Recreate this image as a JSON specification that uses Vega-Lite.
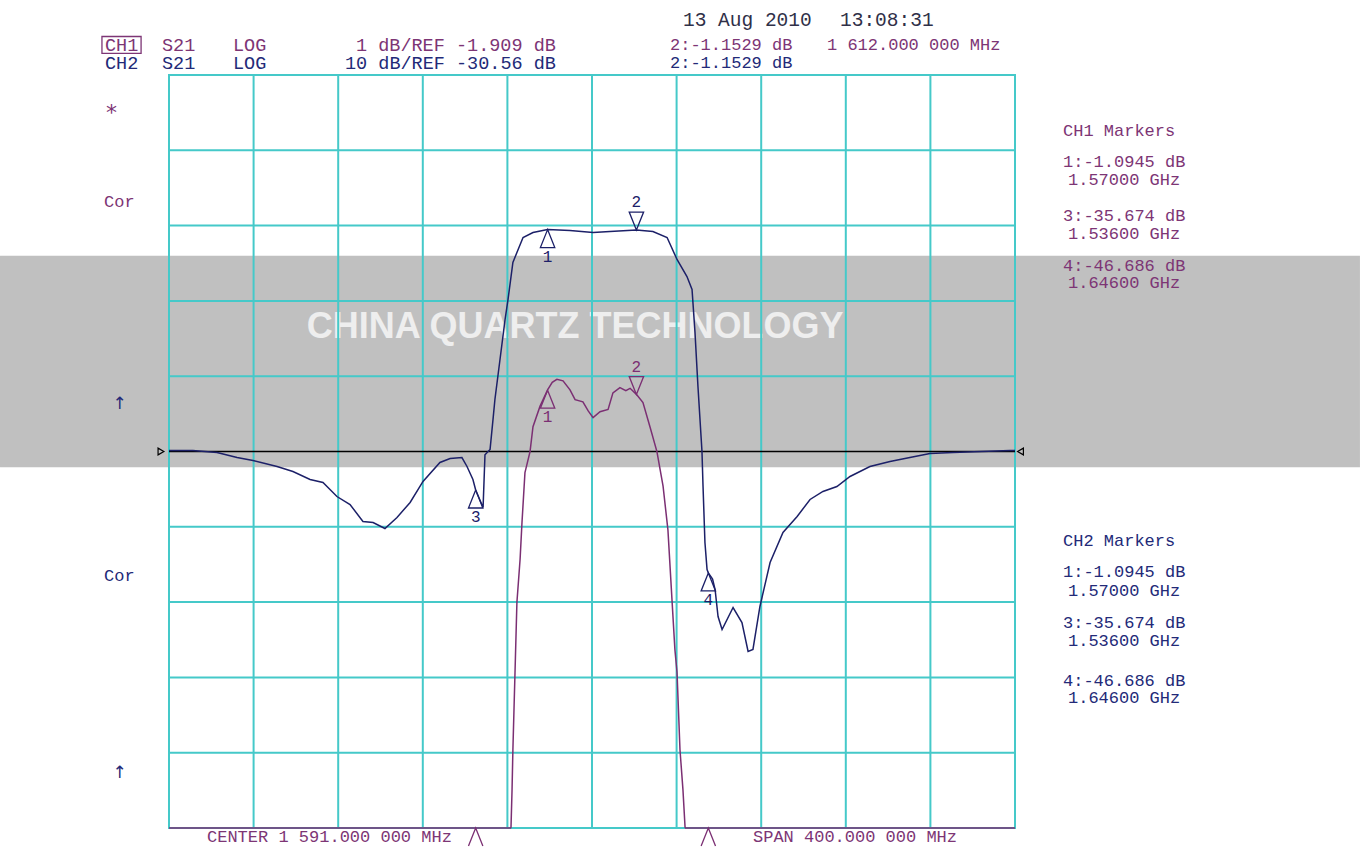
{
  "$schema": "https://vega.github.io/schema/vega-lite/v6.json",
  "width": 846,
  "height": 753,
  "autosize": {"type": "none"},
  "padding": {"left": 169, "top": 75, "right": 345, "bottom": 20},
  "background": "white",
  "config": {
    "view": {"stroke": "#45c9c9", "strokeWidth": 2},
    "text": {"font": "Liberation Mono", "fontSize": 17, "baseline": "middle", "align": "left"}
  },
  "datasets": {
    "one": [{}],
    "gx": [{"f": 1391}, {"f": 1431}, {"f": 1471}, {"f": 1511}, {"f": 1551}, {"f": 1591}, {"f": 1631}, {"f": 1671}, {"f": 1711}, {"f": 1751}, {"f": 1791}],
    "gy": [{"div": -4}, {"div": -3}, {"div": -2}, {"div": -1}, {"div": 1}, {"div": 2}, {"div": 3}, {"div": 4}, {"div": 5}],
    "ch1": [
      {"f": 1391, "db": -8}, {"f": 1552.5, "db": -8}, {"f": 1552.7, "db": -6.9}, {"f": 1553.2, "db": -6.4},
      {"f": 1553.6, "db": -5.87}, {"f": 1554.6, "db": -4.84}, {"f": 1555.5, "db": -3.91}, {"f": 1557, "db": -3.34},
      {"f": 1557.9, "db": -2.85}, {"f": 1559.3, "db": -2.19}, {"f": 1561.7, "db": -1.91}, {"f": 1563.1, "db": -1.58},
      {"f": 1566.4, "db": -1.31}, {"f": 1570, "db": -1.09}, {"f": 1572.2, "db": -0.99}, {"f": 1574.4, "db": -0.95},
      {"f": 1577.3, "db": -0.97}, {"f": 1580.6, "db": -1.09}, {"f": 1583, "db": -1.22}, {"f": 1586.7, "db": -1.25},
      {"f": 1589.2, "db": -1.37}, {"f": 1591.5, "db": -1.46}, {"f": 1594.8, "db": -1.38}, {"f": 1598.6, "db": -1.35},
      {"f": 1600.9, "db": -1.13}, {"f": 1604.2, "db": -1.06}, {"f": 1607, "db": -1.1}, {"f": 1609, "db": -1.07},
      {"f": 1612, "db": -1.15}, {"f": 1615.1, "db": -1.26}, {"f": 1618.4, "db": -1.58}, {"f": 1621.7, "db": -1.91},
      {"f": 1624.6, "db": -2.37}, {"f": 1626.9, "db": -2.95}, {"f": 1628.8, "db": -3.87}, {"f": 1630.2, "db": -4.54},
      {"f": 1631.2, "db": -4.84}, {"f": 1632.6, "db": -5.87}, {"f": 1634, "db": -6.4}, {"f": 1635, "db": -6.9},
      {"f": 1635.2, "db": -8}, {"f": 1791, "db": -8}
    ],
    "ch2": [
      {"f": 1391, "db": -30.43}, {"f": 1402.3, "db": -30.43}, {"f": 1413.7, "db": -30.69}, {"f": 1423.2, "db": -31.36},
      {"f": 1430.7, "db": -31.76}, {"f": 1442.1, "db": -32.55}, {"f": 1449.6, "db": -33.22}, {"f": 1457.7, "db": -34.28},
      {"f": 1463.8, "db": -34.68}, {"f": 1470.4, "db": -36.54}, {"f": 1476.6, "db": -37.6}, {"f": 1482.7, "db": -39.86},
      {"f": 1487.5, "db": -39.99}, {"f": 1493.1, "db": -40.79}, {"f": 1498.8, "db": -39.32}, {"f": 1505, "db": -37.33},
      {"f": 1511.1, "db": -34.54}, {"f": 1519.1, "db": -32.02}, {"f": 1523.9, "db": -31.49}, {"f": 1529.5, "db": -31.36},
      {"f": 1531.9, "db": -32.55}, {"f": 1534.7, "db": -34.28}, {"f": 1536, "db": -35.67}, {"f": 1539.5, "db": -38.0},
      {"f": 1540.4, "db": -31.0}, {"f": 1542.8, "db": -30.3}, {"f": 1544.2, "db": -26.3}, {"f": 1545.1, "db": -23.65},
      {"f": 1547.5, "db": -18.34}, {"f": 1549.9, "db": -13.03}, {"f": 1551.3, "db": -10.37}, {"f": 1553.6, "db": -5.46},
      {"f": 1555.5, "db": -4.13}, {"f": 1558.4, "db": -2.14}, {"f": 1563.1, "db": -1.48}, {"f": 1570, "db": -1.09},
      {"f": 1580.6, "db": -1.21}, {"f": 1591.5, "db": -1.48}, {"f": 1599.5, "db": -1.34}, {"f": 1612, "db": -1.15},
      {"f": 1619.8, "db": -1.34}, {"f": 1626.5, "db": -2.14}, {"f": 1631.2, "db": -5.06}, {"f": 1635.9, "db": -7.32},
      {"f": 1638.3, "db": -9.05}, {"f": 1639.7, "db": -14.76}, {"f": 1641.1, "db": -21.93}, {"f": 1643.0, "db": -30.56},
      {"f": 1643.5, "db": -35.21}, {"f": 1644.4, "db": -42.64}, {"f": 1645.4, "db": -46.23}, {"f": 1646, "db": -46.69},
      {"f": 1648.0, "db": -47.5}, {"f": 1649.2, "db": -48.89}, {"f": 1650.6, "db": -52.47}, {"f": 1652.5, "db": -54.2},
      {"f": 1657.7, "db": -51.28}, {"f": 1661.9, "db": -53.27}, {"f": 1664.8, "db": -57.12}, {"f": 1667.1, "db": -56.85},
      {"f": 1670.4, "db": -51.14}, {"f": 1675.2, "db": -45.3}, {"f": 1681.3, "db": -41.32}, {"f": 1688, "db": -39.19},
      {"f": 1694.1, "db": -36.93}, {"f": 1700.2, "db": -35.87}, {"f": 1706.8, "db": -35.21}, {"f": 1713, "db": -33.88},
      {"f": 1722.4, "db": -32.55}, {"f": 1731.9, "db": -31.89}, {"f": 1741.3, "db": -31.36}, {"f": 1750.8, "db": -30.83},
      {"f": 1761.7, "db": -30.69}, {"f": 1788.6, "db": -30.43}, {"f": 1791, "db": -30.43}
    ],
    "m1": [
      {"f": 1570, "db": -1.0945, "n": "1", "dir": "up"},
      {"f": 1612, "db": -1.1529, "n": "2", "dir": "down"},
      {"f": 1536, "db": -35.674, "n": "3", "dir": "off"},
      {"f": 1646, "db": -46.686, "n": "4", "dir": "off"}
    ],
    "m2": [
      {"f": 1570, "db": -1.0945, "n": "1", "dir": "up"},
      {"f": 1612, "db": -1.1529, "n": "2", "dir": "down"},
      {"f": 1536, "db": -35.674, "n": "3", "dir": "up"},
      {"f": 1646, "db": -46.686, "n": "4", "dir": "up"}
    ],
    "labels": [
      {"f": 1360.74, "div": 5.405, "t": "CH1", "c": "CH1", "s": 18.5},
      {"f": 1387.69, "div": 5.405, "t": "S21", "c": "CH1", "s": 18.5},
      {"f": 1421.26, "div": 5.405, "t": "LOG", "c": "CH1", "s": 18.5},
      {"f": 1479.42, "div": 5.405, "t": "1 dB/REF -1.909 dB", "c": "CH1", "s": 18.5},
      {"f": 1360.74, "div": 5.159, "t": "CH2", "c": "CH2", "s": 18.5},
      {"f": 1387.69, "div": 5.159, "t": "S21", "c": "CH2", "s": 18.5},
      {"f": 1421.26, "div": 5.159, "t": "LOG", "c": "CH2", "s": 18.5},
      {"f": 1474.21, "div": 5.159, "t": "10 dB/REF -30.56 dB", "c": "CH2", "s": 18.5},
      {"f": 1627.88, "div": 5.405, "t": "2:-1.1529 dB", "c": "CH1", "s": 17},
      {"f": 1702.11, "div": 5.405, "t": "1 612.000 000 MHz", "c": "CH1", "s": 17},
      {"f": 1627.88, "div": 5.159, "t": "2:-1.1529 dB", "c": "CH2", "s": 17},
      {"f": 1634.02, "div": 5.737, "t": "13 Aug 2010", "c": "date", "s": 19.5},
      {"f": 1708.26, "div": 5.737, "t": "13:08:31", "c": "date", "s": 19.5},
      {"f": 1360.27, "div": 3.32, "t": "Cor", "c": "CH1", "s": 17},
      {"f": 1360.27, "div": -1.647, "t": "Cor", "c": "CH2", "s": 17},
      {"f": 1813.7, "div": 4.25, "t": "CH1 Markers", "c": "CH1", "s": 17},
      {"f": 1813.7, "div": 3.838, "t": "1:-1.0945 dB", "c": "CH1", "s": 17},
      {"f": 1816.06, "div": 3.612, "t": "1.57000 GHz", "c": "CH1", "s": 17},
      {"f": 1813.7, "div": 3.121, "t": "3:-35.674 dB", "c": "CH1", "s": 17},
      {"f": 1816.06, "div": 2.882, "t": "1.53600 GHz", "c": "CH1", "s": 17},
      {"f": 1813.7, "div": 2.47, "t": "4:-46.686 dB", "c": "CH1", "s": 17},
      {"f": 1816.06, "div": 2.244, "t": "1.64600 GHz", "c": "CH1", "s": 17},
      {"f": 1813.7, "div": -1.182, "t": "CH2 Markers", "c": "CH2", "s": 17},
      {"f": 1813.7, "div": -1.594, "t": "1:-1.0945 dB", "c": "CH2", "s": 17},
      {"f": 1816.06, "div": -1.846, "t": "1.57000 GHz", "c": "CH2", "s": 17},
      {"f": 1813.7, "div": -2.271, "t": "3:-35.674 dB", "c": "CH2", "s": 17},
      {"f": 1816.06, "div": -2.523, "t": "1.53600 GHz", "c": "CH2", "s": 17},
      {"f": 1813.7, "div": -3.054, "t": "4:-46.686 dB", "c": "CH2", "s": 17},
      {"f": 1816.06, "div": -3.28, "t": "1.64600 GHz", "c": "CH2", "s": 17},
      {"f": 1408.97, "div": -5.126, "t": "CENTER 1 591.000 000 MHz", "c": "CH1", "s": 17},
      {"f": 1667.12, "div": -5.126, "t": "SPAN  400.000 000 MHz", "c": "CH1", "s": 17}
    ],
    "symbols": [
      {"f": 1361.2, "div": 4.49, "t": "*", "c": "CH1", "s": 22, "w": "bold"},
      {"f": 1364.3, "div": 0.637, "t": "↑", "c": "CH2", "s": 17, "w": "normal"},
      {"f": 1364.3, "div": -4.263, "t": "↑", "c": "CH2", "s": 17, "w": "normal"}
    ]
  },
  "layer": [
    {
      "layer": [
        {
          "data": {"name": "one"},
          "mark": {"type": "rect", "color": "#c0c0c0"},
          "encoding": {
            "x": {"datum": 1311.1, "type": "quantitative", "scale": {"domain": [1391, 1791], "nice": false, "zero": false}, "axis": null},
            "x2": {"datum": 1954.1},
            "y": {"datum": 2.6, "type": "quantitative", "scale": {"domain": [-5, 5], "nice": false, "zero": false}, "axis": null},
            "y2": {"datum": -0.21}
          }
        },
        {
          "data": {"name": "one"},
          "mark": {"type": "text", "text": "CHINA QUARTZ TECHNOLOGY", "font": "Liberation Sans", "fontWeight": "bold", "fontSize": 36, "color": "#eeeeee", "align": "center"},
          "encoding": {
            "x": {"datum": 1583, "type": "quantitative", "axis": null},
            "y": {"datum": 1.66, "type": "quantitative", "axis": null}
          }
        },
        {
          "data": {"name": "gx"},
          "mark": {"type": "rule", "color": "#45c9c9", "strokeWidth": 2},
          "encoding": {"x": {"field": "f", "type": "quantitative", "axis": null}}
        },
        {
          "data": {"name": "gy"},
          "mark": {"type": "rule", "color": "#45c9c9", "strokeWidth": 2},
          "encoding": {"y": {"field": "div", "type": "quantitative", "axis": null}}
        },
        {
          "data": {"name": "one"},
          "mark": {"type": "rule", "color": "black", "strokeWidth": 1.5},
          "encoding": {"y": {"datum": 0, "type": "quantitative", "axis": null}}
        },
        {
          "data": {"name": "one"},
          "mark": {"type": "point", "shape": "triangle-right", "filled": false, "stroke": "black", "strokeWidth": 1.2, "size": 45, "opacity": 1},
          "encoding": {"x": {"datum": 1387.2, "type": "quantitative", "axis": null}, "y": {"datum": 0, "type": "quantitative", "axis": null}}
        },
        {
          "data": {"name": "one"},
          "mark": {"type": "point", "shape": "triangle-left", "filled": false, "stroke": "black", "strokeWidth": 1.2, "size": 45, "opacity": 1},
          "encoding": {"x": {"datum": 1793.6, "type": "quantitative", "axis": null}, "y": {"datum": 0, "type": "quantitative", "axis": null}}
        },
        {
          "data": {"name": "one"},
          "mark": {"type": "rect", "fillOpacity": 0, "stroke": "#7d3575", "strokeWidth": 1.3},
          "encoding": {
            "x": {"datum": 1359.3, "type": "quantitative", "axis": null},
            "x2": {"datum": 1377.8},
            "y": {"datum": 5.511, "type": "quantitative", "axis": null},
            "y2": {"datum": 5.286}
          }
        },
        {
          "data": {"name": "labels"},
          "mark": {"type": "text"},
          "encoding": {
            "x": {"field": "f", "type": "quantitative", "axis": null},
            "y": {"field": "div", "type": "quantitative", "axis": null},
            "text": {"field": "t", "type": "nominal"},
            "size": {"field": "s", "type": "quantitative", "scale": null},
            "color": {"field": "c", "type": "nominal", "scale": {"domain": ["CH1", "CH2", "date"], "range": ["#7d3575", "#232a78", "#303048"]}, "legend": null}
          }
        },
        {
          "data": {"name": "symbols"},
          "mark": {"type": "text", "font": "DejaVu Sans"},
          "encoding": {
            "x": {"field": "f", "type": "quantitative", "axis": null},
            "y": {"field": "div", "type": "quantitative", "axis": null},
            "text": {"field": "t", "type": "nominal"},
            "size": {"field": "s", "type": "quantitative", "scale": null},
            "fontWeight": {"field": "w", "type": "nominal", "scale": null, "legend": null},
            "color": {"field": "c", "type": "nominal", "legend": null}
          }
        }
      ]
    },
    {
      "layer": [
        {
          "data": {"name": "ch1"},
          "mark": {"type": "line", "color": "#7b2f73", "strokeWidth": 1.5},
          "encoding": {
            "x": {"field": "f", "type": "quantitative", "scale": {"domain": [1391, 1791], "nice": false, "zero": false}, "axis": null},
            "y": {"field": "db", "type": "quantitative", "scale": {"domain": [-6.909, 3.091], "nice": false, "zero": false, "clamp": true}, "axis": null}
          }
        },
        {
          "data": {"name": "m1"},
          "mark": {"type": "point", "filled": false, "strokeWidth": 1.3, "opacity": 1, "size": 1296},
          "encoding": {
            "x": {"field": "f", "type": "quantitative", "axis": null},
            "y": {"field": "db", "type": "quantitative", "axis": null},
            "shape": {"field": "dir", "type": "nominal", "scale": {"domain": ["up", "down", "off"], "range": ["M0,0L-0.4,1L0.4,1Z", "M0,0L-0.4,-1L0.4,-1Z", "M-0.4,1L0,0L0.4,1"]}, "legend": null},
            "color": {"value": "#7b2f73"}
          }
        },
        {
          "data": {"name": "m1"},
          "transform": [{"filter": "datum.dir == 'up'"}],
          "mark": {"type": "text", "dy": 27, "fontSize": 16, "align": "center"},
          "encoding": {
            "x": {"field": "f", "type": "quantitative", "axis": null},
            "y": {"field": "db", "type": "quantitative", "axis": null},
            "text": {"field": "n", "type": "nominal"},
            "color": {"value": "#7b2f73"}
          }
        },
        {
          "data": {"name": "m1"},
          "transform": [{"filter": "datum.dir == 'down'"}],
          "mark": {"type": "text", "dy": -28, "fontSize": 16, "align": "center"},
          "encoding": {
            "x": {"field": "f", "type": "quantitative", "axis": null},
            "y": {"field": "db", "type": "quantitative", "axis": null},
            "text": {"field": "n", "type": "nominal"},
            "color": {"value": "#7b2f73"}
          }
        }
      ]
    },
    {
      "layer": [
        {
          "data": {"name": "ch2"},
          "mark": {"type": "line", "color": "#1c2068", "strokeWidth": 1.5},
          "encoding": {
            "x": {"field": "f", "type": "quantitative", "scale": {"domain": [1391, 1791], "nice": false, "zero": false}, "axis": null},
            "y": {"field": "db", "type": "quantitative", "scale": {"domain": [-80.56, 19.44], "nice": false, "zero": false, "clamp": true}, "axis": null}
          }
        },
        {
          "data": {"name": "m2"},
          "mark": {"type": "point", "filled": false, "strokeWidth": 1.3, "opacity": 1, "size": 1296},
          "encoding": {
            "x": {"field": "f", "type": "quantitative", "axis": null},
            "y": {"field": "db", "type": "quantitative", "axis": null},
            "shape": {"field": "dir", "type": "nominal", "scale": {"domain": ["up", "down", "off"], "range": ["M0,0L-0.4,1L0.4,1Z", "M0,0L-0.4,-1L0.4,-1Z", "M-0.4,1L0,0L0.4,1"]}, "legend": null},
            "color": {"value": "#1c2068"}
          }
        },
        {
          "data": {"name": "m2"},
          "transform": [{"filter": "datum.dir == 'up'"}],
          "mark": {"type": "text", "dy": 27, "fontSize": 16, "align": "center"},
          "encoding": {
            "x": {"field": "f", "type": "quantitative", "axis": null},
            "y": {"field": "db", "type": "quantitative", "axis": null},
            "text": {"field": "n", "type": "nominal"},
            "color": {"value": "#1c2068"}
          }
        },
        {
          "data": {"name": "m2"},
          "transform": [{"filter": "datum.dir == 'down'"}],
          "mark": {"type": "text", "dy": -28, "fontSize": 16, "align": "center"},
          "encoding": {
            "x": {"field": "f", "type": "quantitative", "axis": null},
            "y": {"field": "db", "type": "quantitative", "axis": null},
            "text": {"field": "n", "type": "nominal"},
            "color": {"value": "#1c2068"}
          }
        }
      ]
    }
  ],
  "resolve": {"scale": {"y": "independent", "shape": "independent", "color": "independent"}}
}
